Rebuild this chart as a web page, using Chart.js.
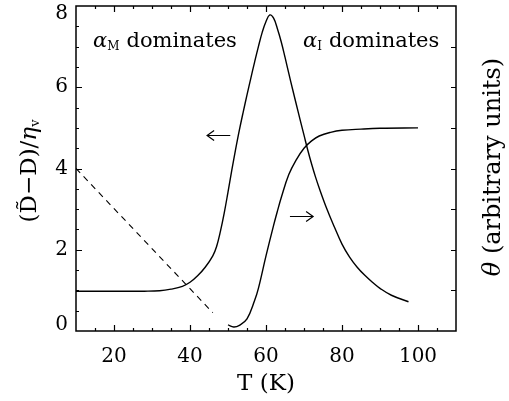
<!DOCTYPE html>
<html>
<head>
<meta charset="utf-8">
<script src="https://cdn.jsdelivr.net/npm/chart.js@4.4.1/dist/chart.umd.min.js"></script>
<style>
  html, body { margin: 0; padding: 0; background: #fff; }
  #wrap { width: 509px; height: 401px; position: relative; }
</style>
</head>
<body>
<div id="wrap"><canvas id="chart" width="509" height="401"></canvas></div>
<script>
// peak curve, left axis
const peakTemps = [10, 20, 28, 32, 35, 38, 40, 42, 44, 46, 47, 48, 49, 50, 51, 52, 53, 54, 55, 56, 57, 58, 59, 60, 61, 62, 63, 64, 65, 66, 67, 68, 69, 70, 71, 72, 73, 74, 76, 78, 80, 82, 84, 86, 88, 90, 93, 97.5];
const peakValues = [0.98, 0.98, 0.98, 0.99, 1.03, 1.1, 1.2, 1.36, 1.57, 1.85, 2.08, 2.45, 2.9, 3.42, 3.96, 4.47, 4.95, 5.39, 5.81, 6.22, 6.62, 7.0, 7.35, 7.62, 7.78, 7.7, 7.44, 7.12, 6.74, 6.34, 5.95, 5.57, 5.19, 4.82, 4.45, 4.11, 3.8, 3.52, 3.01, 2.56, 2.14, 1.82, 1.57, 1.37, 1.2, 1.05, 0.88, 0.72];

// theta (arbitrary units)
const thetaTemps = [50, 51.5, 53, 55, 57, 58, 60, 62, 63, 64, 66, 68, 70, 72, 74, 77, 80, 85, 90, 100];
const thetaValues = [0.15, 0.1, 0.14, 0.3, 0.75, 1.05, 1.85, 2.6, 2.95, 3.28, 3.85, 4.22, 4.5, 4.68, 4.8, 4.89, 4.94, 4.97, 4.99, 5.0];

// dashed line
const dashTemps = [10, 46];
const dashValues = [4.0, 0.45];

const xTickValues = [20, 40, 60, 80, 100];
const yTickValues = [0, 2, 4, 6, 8];

const FONT = '"DejaVu Serif", "Liberation Serif", serif';

function toPoints(xs, ys) {
  return xs.map((x, i) => ({ x: x, y: ys[i] }));
}

function arrow(ctx, x0, x1, py) {
  const dir = Math.sign(x1 - x0);
  ctx.beginPath();
  ctx.moveTo(x0, py); ctx.lineTo(x1, py);
  ctx.moveTo(x1 - dir * 7, py - 5); ctx.lineTo(x1, py); ctx.lineTo(x1 - dir * 7, py + 5);
  ctx.stroke();
}

const framePlugin = {
  id: 'frame',
  afterDraw(chart) {
    const { ctx, chartArea: a, scales: { x, y } } = chart;
    ctx.save();
    ctx.strokeStyle = '#000';
    ctx.lineWidth = 1.5;
    ctx.strokeRect(a.left, a.top, a.right - a.left, a.bottom - a.top);

    ctx.lineWidth = 1.2;
    ctx.beginPath();
    // x ticks, bottom and top
    for (let t = 15; t <= 105; t += 5) {
      const px = Math.round(x.getPixelForValue(t)) + 0.5;
      const len = t % 20 === 0 ? 6 : 3;
      ctx.moveTo(px, a.bottom); ctx.lineTo(px, a.bottom - len);
      ctx.moveTo(px, a.top); ctx.lineTo(px, a.top + len);
    }
    // left ticks
    for (let v = 0.5; v < 8; v += 0.5) {
      const py = Math.round(y.getPixelForValue(v)) + 0.5;
      const len = v % 2 === 0 ? 6 : 3;
      ctx.moveTo(a.left, py); ctx.lineTo(a.left + len, py);
    }
    // right ticks
    for (let v = 1; v < 8; v += 1) {
      const py = Math.round(y.getPixelForValue(v)) + 0.5;
      ctx.moveTo(a.right, py); ctx.lineTo(a.right - 5, py);
    }
    ctx.stroke();

    ctx.fillStyle = '#000';
    ctx.textBaseline = 'middle';

    // y tick labels, end labels kept inside the frame height
    ctx.font = '20px ' + FONT;
    ctx.textAlign = 'right';
    yTickValues.forEach(v => {
      let py = y.getPixelForValue(v);
      py = Math.min(Math.max(py, a.top + 8), a.bottom - 6);
      ctx.fillText(String(v), a.left - 8, py);
    });

    // arrows
    ctx.lineWidth = 1.2;
    arrow(ctx, x.getPixelForValue(50.6), x.getPixelForValue(44.5), Math.round(y.getPixelForValue(4.82)) + 0.5);
    arrow(ctx, x.getPixelForValue(66.3), x.getPixelForValue(72.4), Math.round(y.getPixelForValue(2.82)) + 0.5);

    // region labels
    function alphaLabel(sub, px, py) {
      ctx.textAlign = 'left';
      ctx.font = 'italic 21px ' + FONT;
      ctx.fillText('\u03b1', px, py);
      let w = ctx.measureText('\u03b1').width;
      ctx.font = '12px ' + FONT;
      ctx.fillText(sub, px + w, py + 5);
      w += ctx.measureText(sub).width + 7;
      ctx.font = '21px ' + FONT;
      ctx.fillText('dominates', px + w, py);
    }
    alphaLabel('M', 93, 42);
    alphaLabel('I', 303, 42);

    // x title
    ctx.font = '23px ' + FONT;
    ctx.textAlign = 'center';
    ctx.fillText('T (K)', (a.left + a.right) / 2, 384);

    // left title
    ctx.save();
    ctx.translate(30, 171);
    ctx.rotate(-Math.PI / 2);
    ctx.textAlign = 'left';
    const parts = [
      ['(', '23px ' + FONT, 0],
      ['D\u0303', '23px ' + FONT, 0],
      ['\u2212D)/', '23px ' + FONT, 0],
      ['\u03b7', 'italic 23px ' + FONT, 0],
      ['v', '13px ' + FONT, 6]
    ];
    let total = 0;
    parts.forEach(p => { ctx.font = p[1]; total += ctx.measureText(p[0]).width; });
    let cx = -total / 2;
    parts.forEach(p => {
      ctx.font = p[1];
      ctx.fillText(p[0], cx, p[2]);
      cx += ctx.measureText(p[0]).width;
    });
    ctx.restore();

    // right title
    ctx.save();
    ctx.translate(494, 167);
    ctx.rotate(-Math.PI / 2);
    ctx.textAlign = 'left';
    ctx.font = 'italic 24px ' + FONT;
    const th = '\u03b8 ';
    const thW = ctx.measureText(th).width;
    ctx.font = '24px ' + FONT;
    const rest = '(arbitrary units)';
    const restW = ctx.measureText(rest).width;
    const sx = -(thW + restW) / 2;
    ctx.font = 'italic 24px ' + FONT;
    ctx.fillText(th, sx, 0);
    ctx.font = '24px ' + FONT;
    ctx.fillText(rest, sx + thW, 0);
    ctx.restore();

    ctx.restore();
  }
};

new Chart(document.getElementById('chart'), {
  type: 'scatter',
  data: {
    datasets: [
      {
        data: toPoints(peakTemps, peakValues),
        showLine: true,
        borderColor: '#000',
        borderWidth: 1.4,
        pointRadius: 0,
        tension: 0.4
      },
      {
        data: toPoints(thetaTemps, thetaValues),
        showLine: true,
        borderColor: '#000',
        borderWidth: 1.4,
        pointRadius: 0,
        tension: 0.4
      },
      {
        data: toPoints(dashTemps, dashValues),
        showLine: true,
        borderColor: '#000',
        borderWidth: 1.1,
        borderDash: [6, 5],
        pointRadius: 0
      }
    ]
  },
  options: {
    responsive: false,
    animation: false,
    layout: { padding: { top: 6, right: 53, left: 0, bottom: 0 } },
    plugins: { legend: { display: false }, tooltip: { enabled: false } },
    scales: {
      x: {
        type: 'linear',
        min: 10,
        max: 110,
        afterBuildTicks: s => { s.ticks = xTickValues.map(v => ({ value: v })); },
        afterFit: s => { s.height = 70; },
        grid: { display: false, drawTicks: false },
        border: { display: false },
        ticks: { color: '#000', padding: 14, font: { family: FONT, size: 20 } }
      },
      y: {
        type: 'linear',
        min: 0,
        max: 8,
        afterFit: s => { s.width = 76; },
        grid: { display: false, drawTicks: false },
        border: { display: false },
        ticks: { display: false }
      }
    }
  },
  plugins: [framePlugin]
});
</script>
</body>
</html>
